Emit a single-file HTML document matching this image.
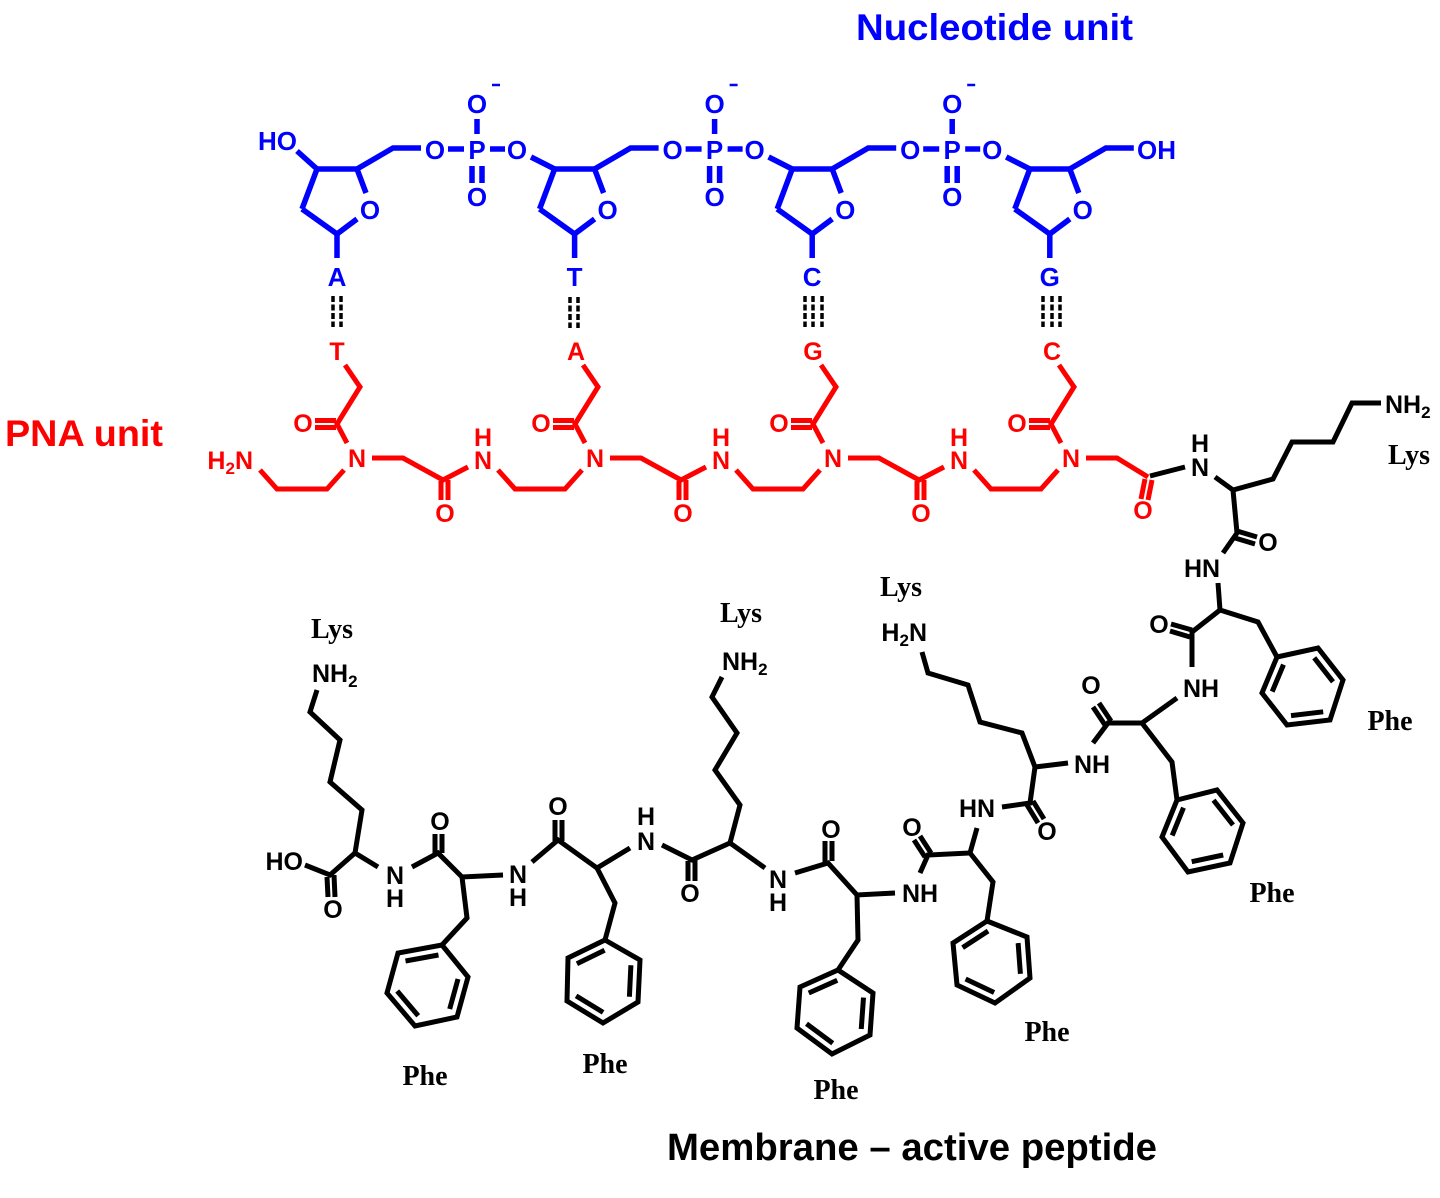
<!DOCTYPE html>
<html><head><meta charset="utf-8"><style>
html,body{margin:0;padding:0;background:#fff;}
svg{display:block;}
.a{font-family:"Liberation Sans",Arial,sans-serif;font-weight:bold;}
.s{font-family:"Liberation Serif","Times New Roman",serif;font-weight:bold;}
</style></head><body>
<svg width="1440" height="1198" viewBox="0 0 1440 1198" xmlns="http://www.w3.org/2000/svg">
<rect width="1440" height="1198" fill="#fff"/>

<!-- Titles -->
<text class="a" x="856" y="40" font-size="37" fill="#0000ff" textLength="277" lengthAdjust="spacingAndGlyphs">Nucleotide unit</text>
<text class="a" x="5" y="446" font-size="37" fill="#ff0000" textLength="158" lengthAdjust="spacingAndGlyphs">PNA unit</text>
<text class="a" x="667" y="1160" font-size="38" fill="#000" textLength="490" lengthAdjust="spacingAndGlyphs">Membrane – active peptide</text>

<!-- ===== Blue nucleotide units ===== -->
<g id="bl">
<g stroke="#0000ff" stroke-width="5.5" fill="none">
  <line x1="297" y1="151" x2="317" y2="169"/>
</g>
<text class="a" x="297" y="150" font-size="26" fill="#0000ff" text-anchor="end">HO</text>
</g>

<g transform="translate(0,0)">
  <g stroke="#0000ff" stroke-width="5.5" fill="none">
    <polyline points="302,209 317,169 357,169 366,193"/>
    <polyline points="357,219 337,234 302,209"/>
    <line x1="337" y1="234" x2="337" y2="258"/>
    <polyline points="357,169 393,148 421,148"/>
    <line x1="448" y1="149" x2="464" y2="149"/>
    <line x1="490" y1="149" x2="505" y2="149"/>
    <line x1="477" y1="119" x2="477" y2="134"/>
    <line x1="472" y1="166" x2="472" y2="183"/>
    <line x1="482" y1="166" x2="482" y2="183"/>
    <line x1="531" y1="157" x2="554.6" y2="169"/>
  </g>
  <line x1="492" y1="85" x2="500" y2="85" stroke="#0000ff" stroke-width="2.5"/>
  <g class="a" font-size="26" fill="#0000ff" text-anchor="middle">
    <text x="370" y="219">O</text>
    <text x="337" y="286">A</text>
    <text x="435" y="159">O</text>
    <text x="477" y="159">P</text>
    <text x="517" y="159">O</text>
    <text x="477" y="113">O</text>
    <text x="477" y="206">O</text>
  </g>
</g>

<g transform="translate(237.6,0)">
  <g stroke="#0000ff" stroke-width="5.5" fill="none">
    <polyline points="302,209 317,169 357,169 366,193"/>
    <polyline points="357,219 337,234 302,209"/>
    <line x1="337" y1="234" x2="337" y2="258"/>
    <polyline points="357,169 393,148 421,148"/>
    <line x1="448" y1="149" x2="464" y2="149"/>
    <line x1="490" y1="149" x2="505" y2="149"/>
    <line x1="477" y1="119" x2="477" y2="134"/>
    <line x1="472" y1="166" x2="472" y2="183"/>
    <line x1="482" y1="166" x2="482" y2="183"/>
    <line x1="531" y1="157" x2="554.6" y2="169"/>
  </g>
  <line x1="492" y1="85" x2="500" y2="85" stroke="#0000ff" stroke-width="2.5"/>
  <g class="a" font-size="26" fill="#0000ff" text-anchor="middle">
    <text x="370" y="219">O</text>
    <text x="337" y="286">T</text>
    <text x="435" y="159">O</text>
    <text x="477" y="159">P</text>
    <text x="517" y="159">O</text>
    <text x="477" y="113">O</text>
    <text x="477" y="206">O</text>
  </g>
</g>

<g transform="translate(475.2,0)">
  <g stroke="#0000ff" stroke-width="5.5" fill="none">
    <polyline points="302,209 317,169 357,169 366,193"/>
    <polyline points="357,219 337,234 302,209"/>
    <line x1="337" y1="234" x2="337" y2="258"/>
    <polyline points="357,169 393,148 421,148"/>
    <line x1="448" y1="149" x2="464" y2="149"/>
    <line x1="490" y1="149" x2="505" y2="149"/>
    <line x1="477" y1="119" x2="477" y2="134"/>
    <line x1="472" y1="166" x2="472" y2="183"/>
    <line x1="482" y1="166" x2="482" y2="183"/>
    <line x1="531" y1="157" x2="554.6" y2="169"/>
  </g>
  <line x1="492" y1="85" x2="500" y2="85" stroke="#0000ff" stroke-width="2.5"/>
  <g class="a" font-size="26" fill="#0000ff" text-anchor="middle">
    <text x="370" y="219">O</text>
    <text x="337" y="286">C</text>
    <text x="435" y="159">O</text>
    <text x="477" y="159">P</text>
    <text x="517" y="159">O</text>
    <text x="477" y="113">O</text>
    <text x="477" y="206">O</text>
  </g>
</g>

<g transform="translate(712.8,0)">
  <g stroke="#0000ff" stroke-width="5.5" fill="none">
    <polyline points="302,209 317,169 357,169 366,193"/>
    <polyline points="357,219 337,234 302,209"/>
    <line x1="337" y1="234" x2="337" y2="258"/>
    <polyline points="357,169 393,148 421,148"/>
  </g>
  <g class="a" font-size="26" fill="#0000ff" text-anchor="middle">
    <text x="370" y="219">O</text>
    <text x="337" y="286">G</text>
  </g>
</g>
<text class="a" x="1137" y="159" font-size="26" fill="#0000ff">OH</text>

<!-- Hydrogen bonds -->
<g stroke="#000" stroke-width="3.5" stroke-dasharray="6 2.5" fill="none">
  <line x1="333" y1="296" x2="333" y2="327"/>
  <line x1="341" y1="296" x2="341" y2="327"/>
  <line x1="570" y1="297" x2="570" y2="328"/>
  <line x1="578" y1="297" x2="578" y2="328"/>
  <line x1="805" y1="296" x2="805" y2="327"/>
  <line x1="813" y1="296" x2="813" y2="327"/>
  <line x1="822" y1="296" x2="822" y2="327"/>
  <line x1="1043" y1="296" x2="1043" y2="327"/>
  <line x1="1052" y1="296" x2="1052" y2="327"/>
  <line x1="1060" y1="296" x2="1060" y2="327"/>
</g>

<!-- ===== Red PNA units ===== -->
<text class="a" x="253" y="469" font-size="25" fill="#ff0000" text-anchor="end">H<tspan font-size="17" dy="5">2</tspan><tspan dy="-5">N</tspan></text>

<g transform="translate(0,0)">
  <g stroke="#ff0000" stroke-width="5" fill="none">
    <polyline points="345,365 360,387 337,424 347,443"/>
    <line x1="336" y1="420.5" x2="315" y2="420.5"/>
    <line x1="336" y1="427.5" x2="315" y2="427.5"/>
    <polyline points="260,470 277,489 327,489 344,470"/>
    <polyline points="372,458 403,458 443,480 468,467"/>
    <line x1="441" y1="481" x2="441" y2="500"/>
    <line x1="448" y1="480" x2="448" y2="500"/>
  </g>
  <g class="a" font-size="25" fill="#ff0000" text-anchor="middle">
    <text x="337" y="360">T</text>
    <text x="303" y="432">O</text>
    <text x="357" y="467">N</text>
    <text x="445" y="522">O</text>
    <text x="483" y="446">H</text>
    <text x="483" y="469">N</text>
  </g>
</g>

<g transform="translate(238,0)">
  <g stroke="#ff0000" stroke-width="5" fill="none">
    <polyline points="345,365 360,387 337,424 347,443"/>
    <line x1="336" y1="420.5" x2="315" y2="420.5"/>
    <line x1="336" y1="427.5" x2="315" y2="427.5"/>
    <polyline points="260,470 277,489 327,489 344,470"/>
    <polyline points="372,458 403,458 443,480 468,467"/>
    <line x1="441" y1="481" x2="441" y2="500"/>
    <line x1="448" y1="480" x2="448" y2="500"/>
  </g>
  <g class="a" font-size="25" fill="#ff0000" text-anchor="middle">
    <text x="338" y="360">A</text>
    <text x="303" y="432">O</text>
    <text x="357" y="467">N</text>
    <text x="445" y="522">O</text>
    <text x="483" y="446">H</text>
    <text x="483" y="469">N</text>
  </g>
</g>

<g transform="translate(476,0)">
  <g stroke="#ff0000" stroke-width="5" fill="none">
    <polyline points="345,365 360,387 337,424 347,443"/>
    <line x1="336" y1="420.5" x2="315" y2="420.5"/>
    <line x1="336" y1="427.5" x2="315" y2="427.5"/>
    <polyline points="260,470 277,489 327,489 344,470"/>
    <polyline points="372,458 403,458 443,480 468,467"/>
    <line x1="441" y1="481" x2="441" y2="500"/>
    <line x1="448" y1="480" x2="448" y2="500"/>
  </g>
  <g class="a" font-size="25" fill="#ff0000" text-anchor="middle">
    <text x="337" y="360">G</text>
    <text x="303" y="432">O</text>
    <text x="357" y="467">N</text>
    <text x="445" y="522">O</text>
    <text x="483" y="446">H</text>
    <text x="483" y="469">N</text>
  </g>
</g>

<g transform="translate(714,0)">
  <g stroke="#ff0000" stroke-width="5" fill="none">
    <polyline points="345,365 360,387 337,424 347,443"/>
    <line x1="336" y1="420.5" x2="315" y2="420.5"/>
    <line x1="336" y1="427.5" x2="315" y2="427.5"/>
    <polyline points="260,470 277,489 327,489 344,470"/>
    <polyline points="372,458 403,458 434,477"/>
    <line x1="431" y1="479" x2="427" y2="499"/>
    <line x1="438" y1="480" x2="434" y2="500"/>
  </g>
  <g class="a" font-size="25" fill="#ff0000" text-anchor="middle">
    <text x="338" y="360">C</text>
    <text x="303" y="432">O</text>
    <text x="357" y="467">N</text>
    <text x="429" y="519">O</text>
  </g>
</g>

<!-- ===== Black peptide ===== -->
<g stroke="#000" stroke-width="5" fill="none">
  <line x1="1150" y1="476" x2="1185" y2="467"/>
  <polyline points="1215,477 1233,490 1273,479 1292,442 1333,442 1352,403 1381,403"/>
  <polyline points="1233,490 1237,533 1223,553"/>
  <line x1="1237" y1="531" x2="1257" y2="537"/>
  <line x1="1235" y1="538" x2="1255" y2="544"/>
  <polyline points="1218,583 1220,610 1258,622 1277,657"/>
  <polygon points="1277,657 1318,648 1343,680 1330,720 1287,725 1262,693"/>
  <line x1="1272.2" y1="691.6" x2="1283.5" y2="664.6"/>
  <line x1="1314.2" y1="657.8" x2="1333" y2="681.8"/>
  <line x1="1323.2" y1="711.8" x2="1291" y2="715.6"/>
  <polyline points="1220,610 1192,632 1192,667"/>
  <line x1="1192" y1="630" x2="1171" y2="624"/>
  <line x1="1190" y1="637" x2="1170" y2="631"/>
  <polyline points="1177,698 1142,723 1108,723 1093,743"/>
  <line x1="1111" y1="721" x2="1099" y2="703"/>
  <line x1="1105" y1="725" x2="1093" y2="707"/>
  <polyline points="1142,723 1172,762 1177,800"/>
  <polygon points="1177,800 1217,790 1243,823 1230,863 1188,872 1162,837"/>
  <line x1="1172.2" y1="835.5" x2="1183.5" y2="807.7"/>
  <line x1="1213.5" y1="800.2" x2="1233" y2="825"/>
  <line x1="1223.2" y1="855" x2="1191.7" y2="861.7"/>
  <polyline points="1068,763 1035,767 1022,733 980,722 968,685 928,673 922,652"/>
  <polyline points="1035,767 1030,803 1002,807"/>
  <line x1="1033" y1="801" x2="1044" y2="819"/>
  <line x1="1027" y1="805" x2="1038" y2="823"/>
  <polyline points="977,828 970,853 928,855 920,873"/>
  <line x1="931" y1="853" x2="920" y2="836"/>
  <line x1="925" y1="857" x2="914" y2="840"/>
  <polyline points="970,853 993,882 987,921"/>
  <polygon points="987,921 1027,937 1030,978 995,1003 957,985 953,943"/>
  <line x1="962.6" y1="947.6" x2="988.1" y2="931"/>
  <line x1="1018.1" y1="943" x2="1020.4" y2="973.8"/>
  <line x1="994.1" y1="992.5" x2="965.6" y2="979"/>
  <polyline points="895,893 857,895 828,863 795,873"/>
  <line x1="825" y1="862" x2="825" y2="841"/>
  <line x1="832" y1="861" x2="832" y2="841"/>
  <polyline points="857,895 858,940 838,970"/>
  <polygon points="838,970 873,993 870,1035 832,1054 797,1028 800,987"/>
  <line x1="808.75" y1="993" x2="837.25" y2="980.3"/>
  <line x1="863.5" y1="997.6" x2="861.25" y2="1029"/>
  <line x1="832.75" y1="1043.3" x2="806.5" y2="1023.8"/>
  <polyline points="765,868 730,843 692,860 662,845"/>
  <line x1="688" y1="861" x2="688" y2="881"/>
  <line x1="695" y1="859" x2="695" y2="881"/>
  <polyline points="730,843 740,805 715,770 737,733 712,697 722,677"/>
  <polyline points="630,848 597,868 558,840 532,862"/>
  <line x1="555" y1="841" x2="555" y2="820"/>
  <line x1="562" y1="841" x2="562" y2="820"/>
  <polyline points="597,868 615,903 605,940"/>
  <polygon points="605,940 640,960 638,1002 603,1023 567,1001 568,958"/>
  <line x1="576.9" y1="963.7" x2="604.6" y2="950.2"/>
  <line x1="630.9" y1="965.2" x2="629.4" y2="996.7"/>
  <line x1="603.1" y1="1012.4" x2="576.1" y2="995.9"/>
  <polyline points="503,875 462,877 438,853 412,867"/>
  <line x1="435" y1="854" x2="435" y2="834"/>
  <line x1="442" y1="853" x2="442" y2="834"/>
  <polyline points="462,877 467,918 442,945"/>
  <polygon points="442,945 468,977 457,1017 415,1026 387,993 398,953"/>
  <line x1="405.5" y1="961" x2="438.5" y2="955"/>
  <line x1="458" y1="979" x2="449.7" y2="1009"/>
  <line x1="418.2" y1="1015.8" x2="397.2" y2="991"/>
  <polyline points="378,867 355,853 330,875 305,865"/>
  <line x1="327" y1="877" x2="328" y2="897"/>
  <line x1="334" y1="875" x2="335" y2="897"/>
  <polyline points="355,853 362,810 330,782 340,740 310,712 317,690"/>
</g>

<g class="a" font-size="25" fill="#000" text-anchor="middle">
  <text x="1200" y="452">H</text>
  <text x="1200" y="476">N</text>
  <text x="1202" y="577">HN</text>
  <text x="1268" y="551">O</text>
  <text x="1159" y="633">O</text>
  <text x="1201" y="697">NH</text>
  <text x="1092" y="773">NH</text>
  <text x="1091" y="694">O</text>
  <text x="1047" y="840">O</text>
  <text x="977" y="817">HN</text>
  <text x="912" y="836">O</text>
  <text x="920" y="902">NH</text>
  <text x="831" y="838">O</text>
  <text x="778" y="888">N</text>
  <text x="778" y="911">H</text>
  <text x="690" y="902">O</text>
  <text x="646" y="825">H</text>
  <text x="646" y="850">N</text>
  <text x="558" y="815">O</text>
  <text x="518" y="883">N</text>
  <text x="518" y="906">H</text>
  <text x="440" y="830">O</text>
  <text x="395" y="884">N</text>
  <text x="395" y="907">H</text>
  <text x="333" y="918">O</text>
</g>
<g class="a" font-size="25" fill="#000">
  <text x="1385" y="413">NH<tspan font-size="17" dy="5">2</tspan></text>
  <text x="722" y="670">NH<tspan font-size="17" dy="5">2</tspan></text>
  <text x="312" y="682">NH<tspan font-size="17" dy="5">2</tspan></text>
  <text x="927" y="641" text-anchor="end">H<tspan font-size="17" dy="5">2</tspan><tspan dy="-5">N</tspan></text>
  <text x="303" y="870" text-anchor="end">HO</text>
</g>

<g class="s" font-size="28" fill="#000" text-anchor="middle">
  <text x="1409" y="464">Lys</text>
  <text x="901" y="596">Lys</text>
  <text x="741" y="622">Lys</text>
  <text x="332" y="638">Lys</text>
  <text x="1390" y="730">Phe</text>
  <text x="1272" y="902">Phe</text>
  <text x="1047" y="1041">Phe</text>
  <text x="836" y="1099">Phe</text>
  <text x="605" y="1073">Phe</text>
  <text x="425" y="1085">Phe</text>
</g>
</svg>
</body></html>
